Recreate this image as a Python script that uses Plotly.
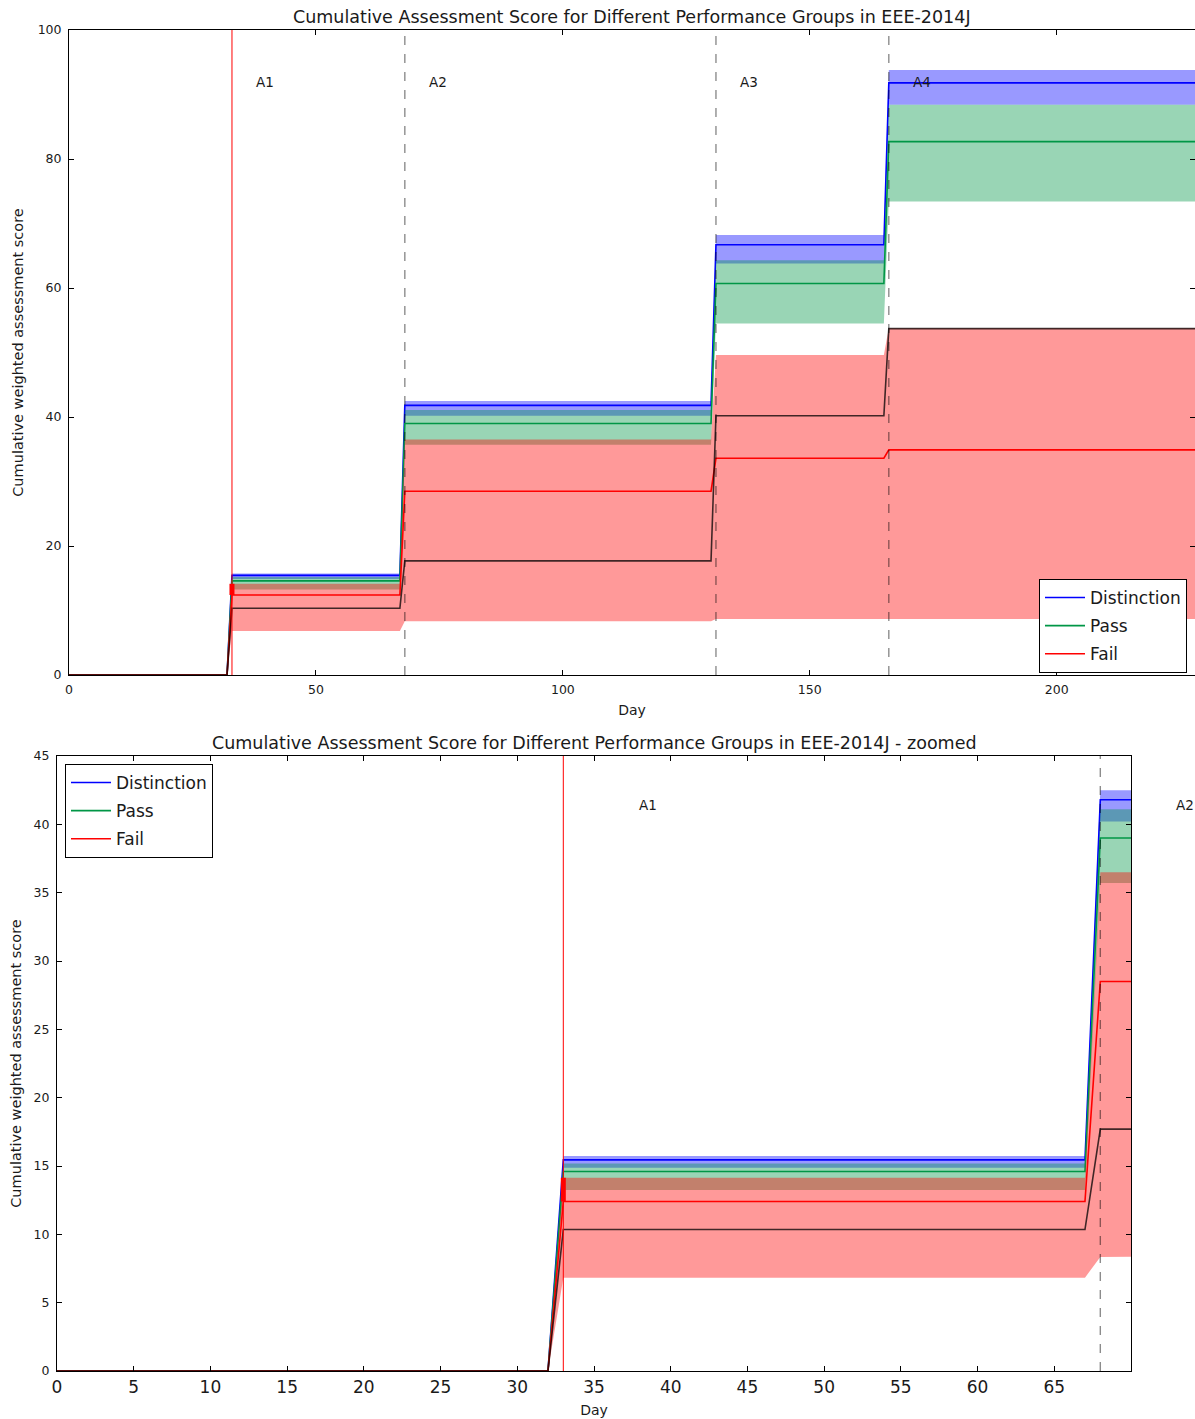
import numpy as np
import plotly.graph_objects as go

# ---------------- data ----------------
groups = ["Distinction", "Pass", "Fail"]
assessments = ["A1", "A2", "A3", "A4"]
deadlines = [33, 68, 131, 166]          # days on which cumulative scores step up
step_days = [0, 33, 68, 131, 166]       # start day of each step level
last_day = 228

dist_mean = [0, 15.45, 41.8, 66.7, 91.8]
dist_lo = [0, 14.87, 40.2, 63.8, 88.4]
dist_hi = [0, 15.73, 42.5, 68.2, 93.8]

pass_mean = [0, 14.6, 39.0, 60.7, 82.7]
pass_lo = [0, 13.24, 35.7, 54.5, 73.4]
pass_hi = [0, 15.19, 41.1, 64.3, 88.4]

fail_mean = [0, 12.4, 28.5, 33.6, 34.9]
fail_lo = [0, 6.83, 8.35, 8.7, 8.7]
fail_hi = [0, 14.14, 36.5, 49.6, 53.8]

overall_mean = [0, 10.35, 17.7, 40.2, 53.7]

# ---------------- styling ----------------
FONT = "DejaVu Sans"
TXT = "#1a1a1a"
line_colors = {"Distinction": "rgb(0,0,255)", "Pass": "rgb(0,150,70)", "Fail": "rgb(255,0,0)"}
fill_colors = {"Distinction": "rgba(0,0,255,0.4)", "Pass": "rgba(0,150,70,0.4)", "Fail": "rgba(255,0,0,0.4)"}

W, H = 1195, 1419
days = np.arange(0, last_day + 1)
idx = np.searchsorted(step_days, days, side="right") - 1


def expand(vals):
    return np.asarray(vals, dtype=float)[idx]


series = {
    "Distinction": (dist_mean, dist_lo, dist_hi),
    "Pass": (pass_mean, pass_lo, pass_hi),
    "Fail": (fail_mean, fail_lo, fail_hi),
}

panels = [
    # axis suffix, x range, y range, legend name, title
    ("", [0, last_day], [0, 100], "legend",
     "Cumulative Assessment Score for Different Performance Groups in EEE-2014J"),
    ("2", [0, 70], [0, 45], "legend2",
     "Cumulative Assessment Score for Different Performance Groups in EEE-2014J - zoomed"),
]

fig = go.Figure()
annotations = []
shapes = []

for sfx, xr, yr, leg, title in panels:
    xa, ya = "x" + sfx, "y" + sfx
    for g in groups:
        m, lo, hi = series[g]
        fig.add_trace(go.Scatter(x=days, y=expand(lo), mode="lines", line=dict(width=0),
                                 showlegend=False, hoverinfo="skip", xaxis=xa, yaxis=ya))
        fig.add_trace(go.Scatter(x=days, y=expand(hi), mode="lines", line=dict(width=0),
                                 fill="tonexty", fillcolor=fill_colors[g],
                                 showlegend=False, hoverinfo="skip", xaxis=xa, yaxis=ya))
        fig.add_trace(go.Scatter(x=days, y=expand(m), mode="lines", name=g,
                                 legendgroup=g + sfx,
                                 line=dict(color=line_colors[g], width=1.6),
                                 legend=leg, xaxis=xa, yaxis=ya))
    fig.add_trace(go.Scatter(x=days, y=expand(overall_mean), mode="lines",
                             line=dict(color="rgba(0,0,0,0.75)", width=1.6),
                             showlegend=False, xaxis=xa, yaxis=ya))
    # thick red marker at first deadline (fail mean -> fail upper)
    fig.add_trace(go.Scatter(x=[deadlines[0], deadlines[0]], y=[fail_mean[1], fail_hi[1]],
                             mode="lines", line=dict(color="rgb(255,0,0)", width=5),
                             showlegend=False, xaxis=xa, yaxis=ya))

    for i, (a, d) in enumerate(zip(assessments, deadlines)):
        if i == 0:
            ln = dict(color="rgb(255,0,0)", width=1)
        else:
            ln = dict(color="rgba(0,0,0,0.45)", width=1.4, dash="dash")
        shapes.append(dict(type="line", xref=xa, yref=ya + " domain", x0=d, x1=d, y0=0, y1=1,
                           line=ln, layer="above"))
        frac = (d + 5 - xr[0]) / (xr[1] - xr[0])
        if frac <= 1.1:
            annotations.append(dict(xref=xa + " domain", yref=ya, x=frac, y=0.92 * yr[1],
                                    xshift=-3,
                                    text=a, showarrow=False, xanchor="left", yanchor="middle",
                                    font=dict(family=FONT, size=13.5, color=TXT)))
    annotations.append(dict(xref=xa + " domain", yref=ya + " domain", x=0.5, y=1, yshift=1,
                            text=title, showarrow=False, xanchor="center", yanchor="bottom",
                            font=dict(family=FONT, size=17.5, color=TXT)))

axis_common = dict(showline=True, linecolor="black", linewidth=1, mirror="ticks",
                   ticks="inside", ticklen=5, tickcolor="black", showgrid=False,
                   zeroline=False, automargin=False)

legend_common = dict(bgcolor="white", bordercolor="black", borderwidth=1,
                     traceorder="grouped", tracegroupgap=3, itemwidth=40,
                     font=dict(family=FONT, size=17, color=TXT))

fig.update_layout(
    width=W, height=H,
    margin=dict(l=0, r=0, t=0, b=0),
    paper_bgcolor="white", plot_bgcolor="white",
    font=dict(family=FONT, color=TXT),
    xaxis=dict(domain=[69 / W, 1.0], range=[0, last_day], tickvals=[0, 50, 100, 150, 200],
               tickfont=dict(size=12.5), anchor="y", ticklabelstandoff=3,
               title=dict(text="Day", font=dict(size=14), standoff=9), **axis_common),
    yaxis=dict(domain=[1 - 675 / H, 1 - 30 / H], range=[0, 100], dtick=20,
               tickfont=dict(size=12.5), anchor="x", ticklabelstandoff=4,
               title=dict(text="Cumulative weighted assessment score", font=dict(size=14.5), standoff=10),
               **axis_common),
    xaxis2=dict(domain=[57 / W, 1131 / W], range=[0, 70], tickvals=list(range(0, 70, 5)),
                tickfont=dict(size=17), anchor="y2", ticklabelstandoff=1,
                title=dict(text="Day", font=dict(size=14), standoff=8), **axis_common),
    yaxis2=dict(domain=[1 - 1371 / H, 1 - 756 / H], range=[0, 45], dtick=5,
                tickfont=dict(size=12.5), anchor="x2", ticklabelstandoff=4,
                title=dict(text="Cumulative weighted assessment score", font=dict(size=14.5), standoff=8),
                **axis_common),
    legend=dict(x=1187 / W, y=1 - 579 / H, xanchor="right", yanchor="top", **legend_common),
    legend2=dict(x=65 / W, y=1 - 764 / H, xanchor="left", yanchor="top", **legend_common),
    shapes=shapes,
    annotations=annotations,
    showlegend=True,
)

fig.write_html("out.html", config={"displayModeBar": False},
               post_script="document.body.style.margin='0';document.body.style.padding='0';")
